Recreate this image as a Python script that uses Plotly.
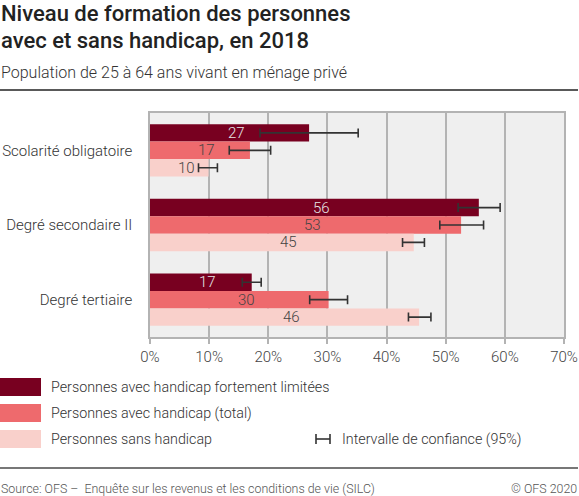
import plotly.graph_objects as go

categories = ["Scolarité obligatoire", "Degré secondaire II", "Degré tertiaire"]
series_names = ["Personnes avec handicap fortement limitées",
                "Personnes avec handicap (total)",
                "Personnes sans handicap"]
strong = [26.9, 55.6, 17.2]
strong_lo = [18.6, 52.1, 15.6]
strong_hi = [35.2, 59.2, 18.8]
total = [16.9, 52.6, 30.2]
total_lo = [13.4, 49.0, 27.0]
total_hi = [20.4, 56.4, 33.4]
without = [9.9, 44.6, 45.5]
without_lo = [8.2, 42.7, 43.7]
without_hi = [11.4, 46.4, 47.5]
x_ticks = [0, 10, 20, 30, 40, 50, 60, 70]

colors = ["#780020", "#ee6a6d", "#f9d0cb"]
label_colors = ["#e6e6e6", "#444444", "#444444"]

W, H = 579, 496
L, R, T, B = 150, 15, 113, 159
PW, PH = W - L - R, H - T - B
SLOT = PH / len(categories)
BARH = SLOT * 0.70 / 3

def px(xp):
    return (xp - L) / PW

def py(yp):
    return (H - B - yp) / PH

FONT = "Roboto"
LW = 300
fig = go.Figure()
series = [(strong, strong_lo, strong_hi), (total, total_lo, total_hi), (without, without_lo, without_hi)]
ann = []
for i, (vals, lo, hi) in enumerate(series):
    fig.add_trace(go.Bar(
        y=categories, x=vals, orientation="h", name=series_names[i],
        marker=dict(color=colors[i], line=dict(width=0)),
        error_x=dict(type="data", symmetric=False,
                     array=[h - v for h, v in zip(hi, vals)],
                     arrayminus=[v - l for v, l in zip(vals, lo)],
                     color="#333333", thickness=1.6, width=4.5),
        showlegend=False, hoverinfo="skip",
    ))
    for c, v in zip(categories, vals):
        ann.append(dict(text=f"{round(v)}", x=v / 2, y=c, xref="x", yref="y",
                        xshift=7, yshift=(1 - i) * BARH, showarrow=False,
                        xanchor="center", yanchor="middle",
                        font=dict(family=FONT, size=15, color=label_colors[i], weight=LW)))

fig.update_layout(
    width=W, height=H, margin=dict(l=L, r=R, t=T, b=B, autoexpand=False),
    paper_bgcolor="white", plot_bgcolor="#efefef",
    barmode="group", bargap=0.30, bargroupgap=0,
    font=dict(family=FONT, color="#444444"),
    xaxis=dict(range=[0, 70], tickvals=x_ticks, ticktext=[f"{t}%" for t in x_ticks],
               automargin=False,
               showgrid=True, gridcolor="#b3b3b3", gridwidth=1.5,
               ticks="outside", ticklen=5, tickcolor="#b3b3b3", tickwidth=1.5,
               showline=True, linecolor="#b3b3b3", linewidth=1.5, mirror=True,
               zeroline=False, tickfont=dict(size=15, color="#444444", family=FONT, weight=LW),
               fixedrange=True),
    yaxis=dict(autorange="reversed", automargin=False, showgrid=False, showline=True, linecolor="#b3b3b3",
               linewidth=1.5, mirror=True, ticks="", ticklabelstandoff=13,
               tickfont=dict(size=15, color="#333333", family=FONT, weight=LW), fixedrange=True),
)

shapes = []
# Titles
ann.append(dict(text="Niveau de formation des personnes",
                x=px(0), y=py(22), xref="paper", yref="paper", xanchor="left", yanchor="bottom",
                showarrow=False, align="left", borderpad=0, yshift=-5,
                font=dict(family=FONT, size=22, color="#222222", weight=500)))
ann.append(dict(text="avec et sans handicap, en 2018",
                x=px(0), y=py(49), xref="paper", yref="paper", xanchor="left", yanchor="bottom",
                showarrow=False, align="left", borderpad=0, yshift=-5,
                font=dict(family=FONT, size=22, color="#222222", weight=500)))
ann.append(dict(text="Population de 25 à 64 ans vivant en ménage privé",
                x=px(0), y=py(72), xref="paper", yref="paper", xanchor="left", yanchor="middle",
                showarrow=False, borderpad=0, font=dict(family=FONT, size=16, color="#333333", weight=LW)))
shapes.append(dict(type="line", xref="paper", yref="paper", x0=px(0), x1=px(578), y0=py(90), y1=py(90),
                   line=dict(color="#222222", width=1.3)))

# Legend
for i, name in enumerate(series_names):
    top = 378 + 26 * i
    shapes.append(dict(type="rect", xref="paper", yref="paper", x0=px(0), x1=px(41),
                       y0=py(top), y1=py(top + 18), fillcolor=colors[i], line=dict(width=0)))
    ann.append(dict(text=name, x=px(50), y=py(top + 9), xref="paper", yref="paper",
                    xanchor="left", yanchor="middle", showarrow=False, borderpad=0,
                    font=dict(family=FONT, size=14.3, color="#333333", weight=LW)))
# CI legend
cy = 378 + 26 * 2 + 9
shapes.append(dict(type="line", xref="paper", yref="paper", x0=px(316), x1=px(330), y0=py(cy), y1=py(cy),
                   line=dict(color="#333333", width=1.6)))
for xx in (316, 330):
    shapes.append(dict(type="line", xref="paper", yref="paper", x0=px(xx), x1=px(xx), y0=py(cy - 5), y1=py(cy + 5),
                       line=dict(color="#333333", width=1.6)))
ann.append(dict(text="Intervalle de confiance (95%)", x=px(341), y=py(cy), xref="paper", yref="paper",
                xanchor="left", yanchor="middle", showarrow=False, borderpad=0,
                font=dict(family=FONT, size=14.3, color="#333333", weight=LW)))

# Footer
shapes.append(dict(type="line", xref="paper", yref="paper", x0=px(0), x1=px(578), y0=py(468), y1=py(468),
                   line=dict(color="#777777", width=2)))
ann.append(dict(text="Source: OFS –  Enquête sur les revenus et les conditions de vie (SILC)",
                x=px(0), y=py(488), xref="paper", yref="paper", xanchor="left", yanchor="middle",
                showarrow=False, borderpad=0, font=dict(family=FONT, size=12.4, color="#555555", weight=LW)))
ann.append(dict(text="© OFS 2020", x=px(578), y=py(488), xref="paper", yref="paper", xanchor="right",
                yanchor="middle", showarrow=False, borderpad=0,
                font=dict(family=FONT, size=12.4, color="#555555", weight=LW)))

fig.update_layout(annotations=ann, shapes=shapes)
fig.write_html("out.html", config={"displayModeBar": False},
               post_script="document.body.style.margin='0';document.body.style.overflow='hidden';")
